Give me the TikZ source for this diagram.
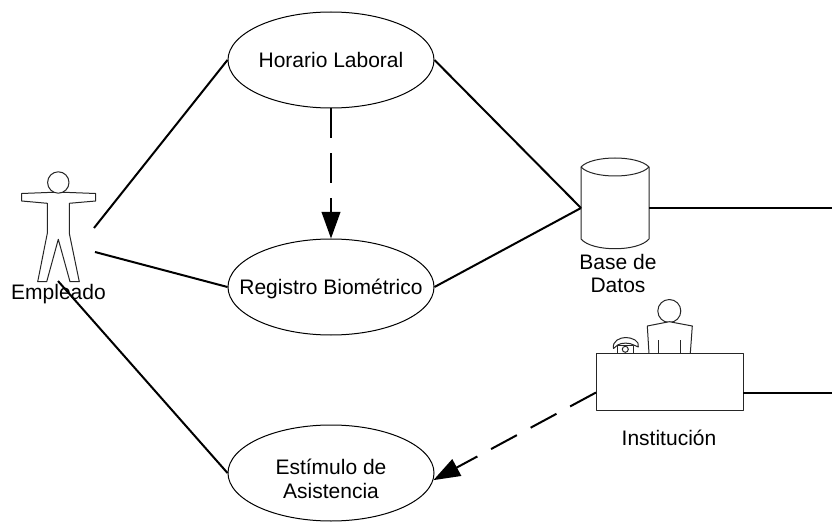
\documentclass[tikz,border=0pt]{standalone}
\usepackage{fontspec}
\setmainfont{Liberation Sans}
\usetikzlibrary{arrows.meta,shapes.geometric}
\tikzset{
  caption/.style={font=\fontsize{15.75}{17.5}\selectfont,align=center,inner sep=0pt},
  usecase/.style={draw=black,line width=0.75pt,ellipse,minimum width=154.5pt,minimum height=72pt,inner sep=0pt},
  link/.style={draw=black,line width=1.5pt},
  flow/.style={link,dash pattern=on 22pt off 11.7pt,-{Triangle[length=20pt,width=14pt]}},
  pict/.style={draw=black!85,line width=0.75pt,fill=white,line join=round}
}
\begin{document}
\begin{tikzpicture}[x=0.75pt,y=-0.75pt]
\useasboundingbox (0,0) rectangle (832,531);
% use cases
\node[usecase,label={[caption]center:Horario Laboral}] (h) at (331,60) {};
\node[usecase,label={[caption,yshift=-1.5pt]center:Registro Biométrico}] (r) at (331,287) {};
\node[usecase,label={[caption,yshift=-4.5pt]center:Estímulo de\\Asistencia}] (e) at (331,473) {};
% anchors of the pictograms
\coordinate (aTop) at (94,228);
\coordinate (aMid) at (95,252);
\coordinate (aLow) at (58,281);
\coordinate (dbL) at (581,208);
\coordinate (dbR) at (649,208);
\coordinate (deskL) at (596,392.5);
\coordinate (deskR) at (743,392.5);
\coordinate (edge1) at (832,208);
\coordinate (edge2) at (832,392.5);
% actor
\draw[pict] (21.7,193.5) -- (47.5,192.5) -- (69.5,192.5) -- (95.7,193.5) -- (95.7,201) -- (69.3,203.3) -- (69.3,233.3) -- (79.3,281.7) -- (70,281.7) -- (58.3,239.3) -- (46.7,281.7) -- (37.7,281.7) -- (47.3,233.3) -- (47.3,203.3) -- (21.7,201) -- cycle;
\draw[pict] (58.3,182.5) circle [radius=10.7*0.75pt];
\node[caption] (emp) at (58.5,294.5) {Empleado};
% connectors to actor
\draw[link] (aTop) -- (h.west);
\draw[link] (aMid) -- (r.west);
\draw[link] (aLow) -- (e.west);
% database
\draw[pict] (581,167) .. controls (592,155) and (638,155) .. (649,167) -- (649,239) .. controls (638,252) and (592,252) .. (581,239) -- cycle;
\draw[pict,fill=none] (581,167) .. controls (592,179) and (638,179) .. (649,167);
\node[caption] (db) at (618,273.5) {Base de\\Datos};
\draw[link] (h.east) -- (dbL);
\draw[link] (r.east) -- (dbL);
\draw[link] (dbR) -- (edge1);
% institution
\draw[pict] (669.3,311) circle [radius=11.5*0.75pt];
\draw[pict] (649,353.5) -- (647.3,326) -- (669.3,321.7) -- (692.3,326) -- (690.3,353.5);
\draw[pict] (658.3,340) -- (658.3,353.5) (680.7,340) -- (680.7,353.5);
\draw[pict] (613.5,348.5) .. controls (612,341) and (620,337.5) .. (625.7,337.5) .. controls (632,337.5) and (640,341) .. (638.3,347) -- (633.7,345) .. controls (630,342.5) and (621,342.5) .. (617.7,345) -- cycle;
\draw[pict] (617.7,345) rectangle (633.7,353.5);
\draw[pict] (625.3,349.3) circle [radius=3*0.75pt];
\draw[pict,fill=none] (596,353.5) rectangle (743,410.5);
\node[caption] (inst) at (669,438) {Institución};
\draw[link] (deskR) -- (edge2);
% dashed flows
\draw[flow] (h.south) -- (r.north);
\draw[flow] (deskL) -- (e.-4);
\end{tikzpicture}
\end{document}
